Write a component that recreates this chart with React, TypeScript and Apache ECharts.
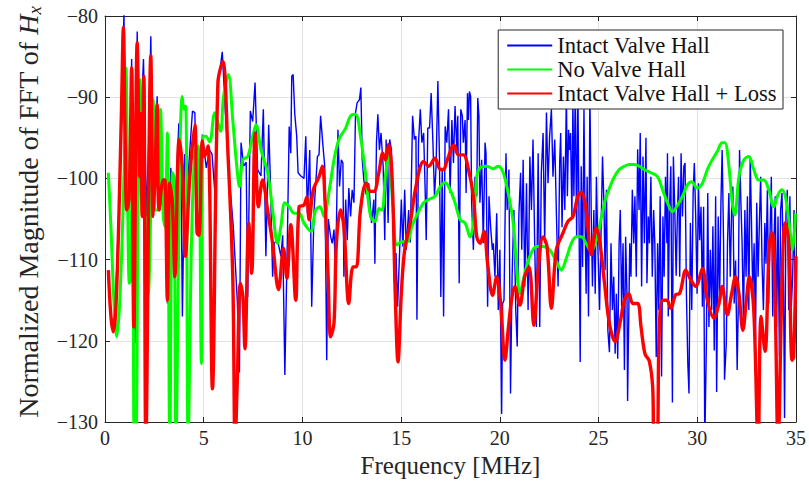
import React, { useEffect, useRef } from "react";
import * as echarts from "echarts";

const xTicks = [0, 5, 10, 15, 20, 25, 30, 35];
const yTicks = [-130, -120, -110, -100, -90, -80];
const seriesNames = ["Intact Valve Hall", "No Valve Hall", "Intact Valve Hall + Loss"];

// [frequency MHz, magnitude dB]
const intactPts: number[][] = [
  [0.17,-112],[0.3,-117],[0.42,-118],[0.56,-113.3],[0.7,-104],[0.85,-92],[0.96,-79.5],[1.05,-100],[1.18,-104.7],[1.25,-102],[1.35,-85.3],[1.45,-117],[1.52,-120.3],[1.63,-81.9],[1.77,-99.8],[1.85,-90.9],[1.95,-85.3],[2.1,-104.7],[2.22,-95],[2.32,-82.5],[2.44,-104.7],[2.55,-100],[2.64,-89.9],[2.78,-103.9],[3.03,-100.6],[3.16,-115.4],[3.33,-98.7],[3.48,-103.9],[3.62,-100],[3.74,-93.2],[3.85,-100],[3.92,-117],[4.04,-97],[4.2,-100],[4.43,-91.7],[4.55,-91.9],[4.66,-103.5],[4.8,-106],[4.93,-94.6],[5.13,-98.7],[5.3,-96.5],[5.42,-97],[5.56,-101.6],[5.72,-88.6],[5.94,-84.4],[6.1,-92],[6.3,-100],[6.5,-106],[6.7,-115],[6.81,-123.9],[6.89,-95.6],[7.03,-98.5],[7.15,-98],[7.23,-114.6],[7.36,-91.7],[7.48,-93],[7.6,-88.2],[7.73,-98.9],[7.9,-99.7],[8.02,-91.5],[8.15,-109.6],[8.29,-93.4],[8.37,-99.7],[8.49,-112.1],[8.57,-108],[8.74,-107.6],[8.91,-109.6],[9.0,-107],[9.11,-124.2],[9.24,-107],[9.33,-93.6],[9.41,-96.9],[9.46,-87.4],[9.53,-87.2],[9.61,-92],[9.71,-94.8],[9.78,-99.3],[9.92,-99.7],[10.08,-100],[10.17,-94.8],[10.25,-104.3],[10.37,-96.5],[10.47,-115.8],[10.59,-103.9],[10.76,-97.3],[10.84,-97.1],[10.92,-92.3],[11.04,-96],[11.13,-98.5],[11.23,-122.4],[11.31,-105],[11.43,-107.2],[11.51,-108],[11.6,-106.3],[11.68,-112.1],[11.8,-94],[11.88,-101],[11.97,-97.7],[12.05,-98.1],[12.1,-112.1],[12.19,-102.6],[12.27,-107.6],[12.35,-101.2],[12.44,-104.7],[12.52,-101.4],[12.61,-103],[12.69,-91.9],[12.77,-90.7],[12.89,-90.3],[12.96,-88.8],[13.03,-97.7],[13.11,-100.2],[13.23,-102],[13.36,-100.6],[13.5,-105.5],[13.62,-102.6],[13.67,-110.5],[13.75,-95.6],[13.82,-92.1],[13.9,-96.5],[13.98,-94.4],[14.09,-98.5],[14.17,-107.6],[14.24,-95.2],[14.34,-105.5],[14.42,-95.2],[14.51,-96.5],[14.57,-103],[14.66,-112.9],[14.74,-109.2],[14.82,-115.8],[14.92,-109.2],[15.01,-102.6],[15.09,-108.4],[15.18,-101.4],[15.26,-108.8],[15.38,-103.9],[15.46,-107.9],[15.58,-92.3],[15.67,-95.2],[15.75,-94.8],[15.8,-117.4],[15.88,-95.6],[15.97,-91.5],[16.05,-95.6],[16.14,-94.4],[16.22,-101.8],[16.27,-107.6],[16.35,-93.8],[16.44,-93.8],[16.52,-89.5],[16.61,-95.6],[16.69,-102.2],[16.77,-98.5],[16.86,-88],[16.94,-97.3],[17.01,-114.6],[17.08,-98.9],[17.15,-117],[17.23,-93.6],[17.31,-95.6],[17.4,-91.5],[17.48,-101.8],[17.57,-92.8],[17.65,-98.1],[17.73,-91.1],[17.82,-96.5],[17.87,-92.3],[17.94,-112.9],[18.02,-91.5],[18.1,-92.3],[18.15,-95.6],[18.24,-92.8],[18.29,-101.8],[18.36,-89.5],[18.41,-92.8],[18.46,-89.3],[18.52,-89.9],[18.57,-103],[18.66,-108.8],[18.74,-99.8],[18.83,-102.2],[18.88,-90.1],[18.94,-92.3],[18.99,-103],[19.08,-97.7],[19.16,-108],[19.25,-95.6],[19.3,-96.9],[19.38,-115.8],[19.45,-102.2],[19.53,-105.9],[19.62,-108.8],[19.67,-108],[19.75,-112.1],[19.84,-104.3],[19.92,-116.2],[20.0,-108.8],[20.09,-129],[20.14,-115.4],[20.21,-115],[20.31,-96.9],[20.37,-103.9],[20.46,-98.9],[20.54,-126.5],[20.62,-112.1],[20.71,-103.9],[20.81,-116.6],[20.88,-120.7],[20.96,-104.7],[21.05,-99.3],[21.11,-108.8],[21.18,-97.7],[21.26,-113.3],[21.35,-100.6],[21.43,-116.2],[21.52,-97.3],[21.6,-103.9],[21.68,-95.2],[21.77,-108.8],[21.85,-118.3],[21.94,-96.9],[22.02,-118.3],[22.1,-99.3],[22.19,-94.4],[22.27,-108],[22.36,-91.9],[22.44,-100.6],[22.52,-94.8],[22.61,-91.5],[22.69,-99.8],[22.78,-95.2],[22.86,-103.9],[22.95,-113.3],[23.03,-98.1],[23.08,-94.4],[23.15,-106],[23.22,-97.3],[23.29,-103.9],[23.37,-89.5],[23.42,-102.2],[23.48,-94],[23.53,-96.5],[23.58,-94.4],[23.65,-104.7],[23.7,-90.5],[23.75,-102.2],[23.82,-89.5],[23.89,-107.2],[23.95,-88.5],[24.0,-102.2],[24.07,-122.6],[24.12,-98.5],[24.19,-110.9],[24.26,-91.5],[24.32,-105.9],[24.37,-114.2],[24.42,-99.8],[24.49,-117],[24.56,-89.5],[24.63,-104.7],[24.69,-113.3],[24.76,-103.9],[24.83,-114.2],[24.89,-99.8],[24.96,-108],[25.05,-116.2],[25.13,-105.9],[25.2,-97.3],[25.27,-103],[25.33,-111.3],[25.4,-101.4],[25.47,-118.7],[25.55,-121.4],[25.63,-108],[25.7,-116.2],[25.77,-112.1],[25.84,-121.6],[25.9,-114.2],[25.97,-122.2],[26.04,-108],[26.1,-103.9],[26.17,-115.8],[26.24,-108],[26.31,-123.6],[26.37,-107.2],[26.44,-114.6],[26.47,-127.4],[26.58,-108],[26.64,-112.1],[26.71,-101.4],[26.78,-108],[26.84,-102.2],[26.91,-112.1],[26.98,-96.4],[27.05,-103.9],[27.11,-94.4],[27.18,-113.3],[27.25,-97.3],[27.32,-108],[27.4,-95],[27.45,-112.9],[27.52,-104.7],[27.58,-108],[27.65,-99.8],[27.72,-112.1],[27.79,-103.9],[27.85,-108],[27.92,-122],[27.99,-108],[28.05,-116.2],[28.12,-102.2],[28.19,-124.4],[28.26,-104.7],[28.32,-112.1],[28.39,-99.8],[28.46,-108],[28.49,-96.9],[28.53,-117],[28.59,-103.9],[28.66,-98.5],[28.74,-127.6],[28.79,-97.3],[28.86,-103.9],[28.93,-112],[28.99,-104.7],[29.05,-99.8],[29.11,-112.1],[29.18,-96.9],[29.25,-104.7],[29.32,-98.5],[29.38,-98.1],[29.45,-114.2],[29.52,-122.8],[29.58,-126.5],[29.65,-105.5],[29.72,-116.2],[29.79,-101.8],[29.85,-98.1],[29.92,-104.7],[29.99,-114.2],[30.06,-100.6],[30.12,-107.6],[30.19,-103.5],[30.26,-115.8],[30.32,-103.5],[30.38,-133],[30.46,-120.3],[30.53,-101.8],[30.59,-118.3],[30.66,-108.8],[30.73,-116.2],[30.79,-105.9],[30.86,-121.2],[30.93,-102.2],[30.98,-126.3],[31.06,-104.7],[31.13,-115],[31.2,-102.6],[31.26,-96.5],[31.33,-107.6],[31.38,-124.8],[31.47,-120.3],[31.53,-108],[31.6,-101.8],[31.67,-112.1],[31.74,-103.9],[31.8,-101],[31.87,-115.4],[31.94,-110.1],[32.02,-123.6],[32.07,-116.6],[32.14,-96.5],[32.21,-103],[32.27,-108],[32.34,-117.9],[32.41,-103.9],[32.47,-112.1],[32.54,-102.2],[32.61,-116.2],[32.68,-97.3],[32.74,-104.7],[32.81,-114.2],[32.88,-108],[32.95,-119.9],[33.01,-103],[33.08,-112.1],[33.15,-105.1],[33.21,-99.8],[33.28,-110.5],[33.35,-116.2],[33.42,-105.5],[33.48,-110.5],[33.55,-101.4],[33.62,-115.4],[33.69,-106.3],[33.75,-99.8],[33.82,-117],[33.89,-107.2],[33.95,-102.2],[34.02,-118.3],[34.09,-104.7],[34.16,-121.9],[34.22,-103.9],[34.29,-101.8],[34.36,-110.1],[34.42,-129.5],[34.49,-104.7],[34.56,-101.4],[34.63,-116.2],[34.69,-102.2],[34.76,-116],[34.83,-112.1],[34.9,-103.9],[34.96,-115]
];

const noHallPts: number[][] = [
  [0.17,-99.3],[0.3,-106],[0.45,-115],[0.59,-119.5],[0.75,-115],[0.96,-99.8],[1.06,-86.4],[1.23,-112.9],[1.3,-112.5],[1.4,-92.8],[1.48,-133],[1.56,-133],[1.68,-99.8],[1.77,-87.8],[1.85,-103],[1.95,-96],[2.05,-106],[2.19,-114.2],[2.44,-90.3],[2.52,-103.9],[2.69,-103.9],[2.81,-91.5],[2.95,-104.7],[3.03,-105.9],[3.16,-94.4],[3.28,-133],[3.42,-99.3],[3.5,-100],[3.59,-133],[3.79,-97.7],[3.91,-89.9],[4.0,-91.5],[4.09,-91.1],[4.21,-133],[4.38,-108],[4.55,-96.9],[4.72,-96],[4.88,-122.8],[4.97,-94.8],[5.1,-94.8],[5.3,-95.5],[5.56,-91.9],[5.85,-94.2],[6.0,-90],[6.25,-87.2],[6.47,-92.8],[6.69,-98.9],[6.81,-101],[6.98,-97.7],[7.23,-97.3],[7.48,-94.8],[7.65,-93.4],[7.9,-96.5],[8.24,-99.3],[8.49,-103.9],[8.74,-108],[8.91,-105.9],[9.11,-103],[9.33,-103.5],[9.58,-104.3],[9.83,-104.3],[10.08,-105.5],[10.42,-106.5],[10.67,-103.9],[10.89,-103.5],[11.09,-104.7],[11.35,-101.6],[11.6,-97.7],[11.85,-95.2],[12.19,-93.8],[12.44,-92.3],[12.69,-92.1],[12.94,-94.8],[13.19,-99.3],[13.45,-104.7],[13.67,-105.3],[13.87,-103.7],[14.03,-103.9],[14.2,-99.8],[14.37,-96.9],[14.57,-103],[14.79,-108.2],[15.04,-107.8],[15.3,-107.8],[15.55,-105.9],[15.8,-104.5],[16.14,-103],[16.39,-102.6],[16.72,-102.2],[16.98,-101],[17.23,-100.5],[17.48,-101.4],[17.73,-103],[17.99,-105.1],[18.24,-105.5],[18.49,-107.2],[18.66,-105.5],[18.83,-99.8],[19.0,-98.7],[19.33,-98.5],[19.67,-98.8],[19.92,-98.5],[20.17,-99.3],[20.42,-101.8],[20.68,-105.5],[20.84,-110.5],[21.01,-114.2],[21.26,-111.7],[21.52,-109.6],[21.85,-108.4],[22.19,-108.4],[22.52,-108.8],[22.86,-110.2],[23.11,-111.3],[23.37,-109.8],[23.62,-108],[23.87,-107.2],[24.12,-107.2],[24.37,-108],[24.63,-109],[24.83,-108],[25.05,-105.9],[25.3,-103],[25.55,-101.2],[25.8,-99.8],[26.05,-98.9],[26.31,-98.5],[26.56,-98.3],[26.81,-98.3],[27.06,-98.5],[27.31,-98.9],[27.65,-99.3],[27.99,-99.8],[28.24,-101.4],[28.49,-103],[28.74,-104.1],[29.0,-103.3],[29.25,-102.2],[29.5,-100.8],[29.72,-100.4],[30.0,-101.2],[30.26,-100.6],[30.51,-98.9],[30.76,-97.7],[31.01,-96.7],[31.26,-95.6],[31.4,-95.6],[31.6,-98.5],[31.77,-103],[31.9,-104.5],[32.11,-99.8],[32.36,-97.7],[32.61,-97.3],[32.86,-98.9],[33.11,-100.2],[33.37,-100.2],[33.62,-101.4],[33.87,-103.5],[34.09,-102],[34.29,-101.4],[34.49,-102.6],[34.71,-106.7],[34.83,-108.8],[34.97,-104.3]
];

const lossPts: number[][] = [
  [0.17,-111.3],[0.3,-117],[0.42,-118.9],[0.55,-116],[0.7,-105],[0.84,-91],[0.93,-81.4],[1.02,-95],[1.1,-103.9],[1.22,-102.5],[1.35,-86.4],[1.46,-118.3],[1.63,-83.3],[1.77,-99.8],[1.82,-92],[1.88,-104.7],[1.97,-87.4],[2.07,-133],[2.32,-84.9],[2.44,-104.7],[2.53,-100],[2.64,-90.9],[2.74,-103.9],[2.95,-100.2],[3.03,-100.2],[3.16,-115],[3.28,-100.6],[3.41,-103],[3.54,-112.1],[3.75,-95.2],[3.86,-96.9],[3.95,-100],[4.07,-109.6],[4.29,-100],[4.55,-93.4],[4.66,-106.7],[4.76,-107],[4.93,-95.4],[5.05,-97.3],[5.22,-96],[5.44,-125.9],[5.72,-88.2],[5.97,-85.6],[6.22,-96.5],[6.47,-112],[6.59,-133],[6.7,-125],[6.86,-112.9],[6.98,-114.5],[7.09,-121],[7.28,-105.5],[7.43,-111.7],[7.6,-94.4],[7.77,-103.5],[7.98,-100.2],[8.24,-104],[8.49,-108],[8.79,-113.7],[9.04,-108.6],[9.21,-112.3],[9.41,-105.7],[9.66,-115],[9.83,-103.5],[10.08,-103.3],[10.22,-102.3],[10.34,-105.1],[10.55,-101.4],[10.84,-99.8],[11.01,-98.5],[11.14,-102.6],[11.3,-112],[11.43,-119.5],[11.6,-117.8],[11.72,-108],[11.93,-103.9],[12.1,-106],[12.35,-115.4],[12.56,-110.9],[12.73,-110.9],[12.94,-103.9],[13.23,-100.6],[13.45,-101.6],[13.62,-101.6],[13.87,-99.3],[14.07,-96.9],[14.2,-97.7],[14.37,-95.8],[14.54,-99.8],[14.71,-115],[14.84,-122.6],[15.01,-114.1],[15.18,-108.8],[15.46,-105.5],[15.75,-101],[16.14,-97.9],[16.39,-98.5],[16.72,-97.5],[16.98,-98.9],[17.15,-98.9],[17.31,-97.9],[17.68,-95.9],[17.9,-97.1],[18.15,-97.1],[18.41,-98.9],[18.66,-102.2],[18.83,-107.2],[19.0,-108],[19.2,-106.5],[19.38,-110.5],[19.63,-114.4],[19.84,-112.1],[20.04,-115.4],[20.26,-122.4],[20.42,-118.7],[20.59,-115],[20.76,-113.3],[21.01,-115.6],[21.26,-112.1],[21.48,-110.9],[21.72,-118.1],[21.94,-111.3],[22.19,-107.2],[22.39,-108.4],[22.61,-116],[22.86,-108.8],[23.2,-106.7],[23.45,-105.3],[23.7,-104.7],[23.95,-102.2],[24.12,-101.7],[24.37,-103.9],[24.63,-109.4],[24.88,-106.1],[25.05,-107.6],[25.3,-112.9],[25.55,-117.9],[25.84,-120.1],[26.1,-117.6],[26.31,-115],[26.53,-114.2],[26.73,-115.4],[26.98,-115.4],[27.15,-118.3],[27.35,-121.6],[27.57,-122.5],[27.74,-125.7],[27.82,-133],[27.96,-133],[28.07,-118.7],[28.24,-115],[28.46,-115],[28.66,-116],[28.91,-114.3],[29.1,-114.2],[29.42,-111.3],[29.67,-112.5],[29.92,-113.3],[30.26,-111.1],[30.51,-115],[30.84,-117.2],[31.1,-115.4],[31.26,-113.3],[31.52,-116.8],[31.74,-114.2],[31.94,-112.1],[32.11,-114.2],[32.31,-118.7],[32.47,-115.4],[32.64,-112.1],[32.86,-116.2],[33.08,-133],[33.23,-117],[33.43,-121.3],[33.65,-108],[33.79,-106.7],[33.95,-116.2],[34.09,-133],[34.3,-112],[34.45,-105.5],[34.62,-107.5],[34.8,-122.4],[34.88,-122],[35.0,-109.6]
];

const FONT = "Liberation Serif";
const AX = "#262626";

export default function App() {
  const ref = useRef<HTMLDivElement>(null);
  useEffect(() => {
    if (!ref.current) return;
    const chart = echarts.init(ref.current, undefined, { renderer: "svg" });
    const minus = (v: number) => (v < 0 ? "\u2212" + Math.abs(v) : String(v));
    const baseAxis = {
      axisLine: { show: true, onZero: false, lineStyle: { color: AX, width: 1 } },
      axisTick: { show: true, inside: true, length: 5, lineStyle: { color: AX } },
    };
    chart.setOption({
      animation: false,
      backgroundColor: "#fff",
      textStyle: { fontFamily: FONT },
      grid: { left: 105, right: 10, top: 16, bottom: 61, containLabel: false },
      legend: {
        orient: "vertical",
        right: 26,
        top: 30,
        backgroundColor: "#fff",
        borderColor: AX,
        borderWidth: 1,
        borderRadius: 0,
        padding: [4, 6, 4, 8],
        itemWidth: 45,
        itemHeight: 14,
        itemGap: 1,
        itemStyle: { opacity: 0 },
        textStyle: { fontFamily: FONT, fontSize: 22.6, color: "#111" },
        data: seriesNames,
      },
      xAxis: [
        {
          type: "value", min: 0, max: 35, interval: 5, position: "bottom",
          ...baseAxis,
          splitLine: { show: true, lineStyle: { color: "#e3e3e3", width: 1 } },
          axisLabel: { fontFamily: FONT, fontSize: 20, color: AX, margin: 6, formatter: minus },
          name: "Frequency [MHz]", nameLocation: "middle", nameGap: 30,
          nameTextStyle: { fontFamily: FONT, fontSize: 25, color: AX },
        },
        {
          type: "value", min: 0, max: 35, interval: 5, position: "top",
          ...baseAxis, splitLine: { show: false }, axisLabel: { show: false },
        },
      ],
      yAxis: [
        {
          type: "value", min: -130, max: -80, interval: 10, position: "left",
          ...baseAxis,
          splitLine: { show: true, lineStyle: { color: "#e3e3e3", width: 1 } },
          axisLabel: { fontFamily: FONT, fontSize: 20, color: AX, margin: 7, formatter: minus },
          name: "Normalized Magnitude of FFT of {i|H}{s|x}", nameLocation: "middle", nameGap: 61,
          nameTextStyle: {
            fontFamily: FONT, fontSize: 28, color: AX, padding: [0, 0, 0, 14],
            rich: {
              i: { fontFamily: FONT, fontSize: 28, fontStyle: "italic", color: AX },
              s: { fontFamily: FONT, fontSize: 19, fontStyle: "italic", color: AX, padding: [12, 0, 0, 0] },
            },
          },
        },
        {
          type: "value", min: -130, max: -80, interval: 10, position: "right",
          ...baseAxis, splitLine: { show: false }, axisLabel: { show: false },
        },
      ],
      series: [
        {
          name: seriesNames[0], type: "line", data: intactPts, showSymbol: false, symbol: "none",
          lineStyle: { color: "#0000ff", width: 1.4 }, itemStyle: { color: "#0000ff" }, clip: true,
        },
        {
          name: seriesNames[1], type: "line", data: noHallPts, showSymbol: false, symbol: "none", smooth: 0.35,
          lineStyle: { color: "#00ff00", width: 3 }, itemStyle: { color: "#00ff00" }, clip: true,
        },
        {
          name: seriesNames[2], type: "line", data: lossPts, showSymbol: false, symbol: "none", smooth: 0.35,
          lineStyle: { color: "#ff0000", width: 3.4 }, itemStyle: { color: "#ff0000" }, clip: true,
        },
      ],
    });
    return () => chart.dispose();
  }, []);
  return <div ref={ref} style={{ width: 809, height: 483, position: "absolute", left: 0, top: 0 }} />;
}
